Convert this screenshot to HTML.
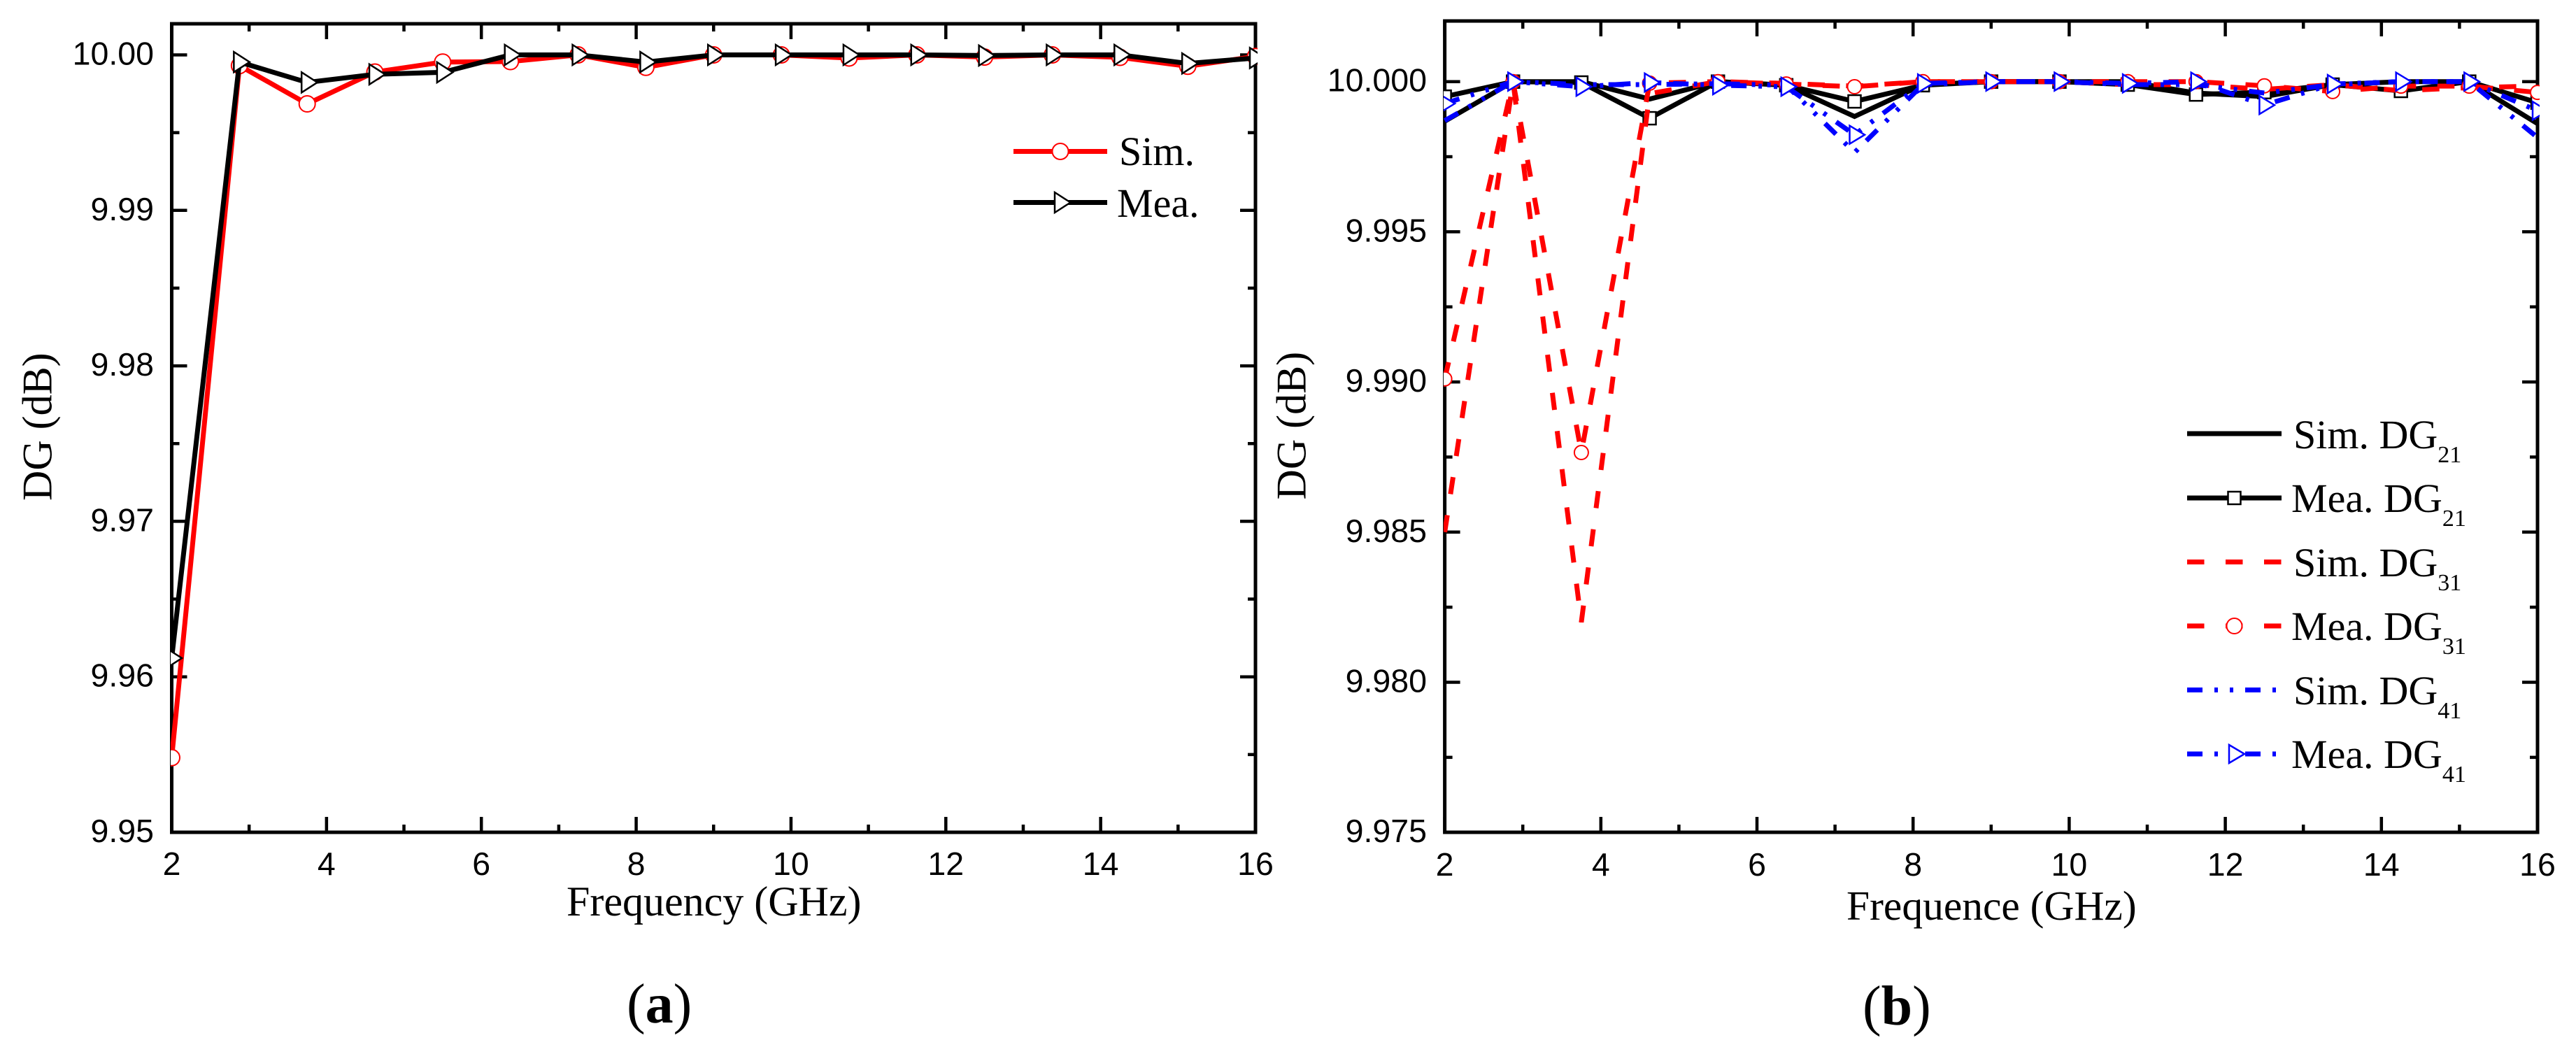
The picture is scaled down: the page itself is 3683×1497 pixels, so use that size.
<!DOCTYPE html>
<html lang="en">
<head>
<meta charset="utf-8">
<title>DG vs Frequency</title>
<style>
html,body{margin:0;padding:0;background:#fff;width:3683px;height:1497px;overflow:hidden}
svg{display:block}
text{fill:#000}
.num{font-family:"Liberation Sans",Arial,sans-serif;font-size:46.5px}
.ser{font-family:"Liberation Serif","Times New Roman",serif}
</style>
</head>
<body>
<svg id="chart" xmlns="http://www.w3.org/2000/svg" width="3683" height="1497" viewBox="0 0 3683 1497">
  <rect x="0" y="0" width="3683" height="1497" fill="#fff"/>
  <defs>
    <clipPath id="clipA"><rect x="244" y="30" width="1554" height="1162"/></clipPath>
    <clipPath id="clipB"><rect x="2064" y="28" width="1567" height="1165"/></clipPath>
  </defs>

  <g id="panelA"></g>
  <g id="panelB"></g>

  <text class="ser" font-size="60" x="810" y="1309">Frequency (GHz)</text>
  <text class="ser" font-size="60" transform="translate(73.3,716) rotate(-90)">DG (dB)</text>
  <text class="ser" font-size="80" x="896" y="1462">(<tspan font-weight="bold">a</tspan>)</text>

  <text class="ser" font-size="59.5" x="2640" y="1315">Frequence (GHz)</text>
  <text class="ser" font-size="60" transform="translate(1866.7,714.5) rotate(-90)">DG (dB)</text>
  <text class="ser" font-size="80" x="2663" y="1465">(<tspan font-weight="bold">b</tspan>)</text>

  <g>
    <g>
      <line x1="1449" y1="216.5" x2="1583" y2="216.5" stroke="#f00" stroke-width="7"/>
      <circle cx="1516" cy="216.5" r="11.5" fill="#fff" stroke="#f00" stroke-width="2"/>
      <text class="ser" font-size="58" x="1600" y="236">Sim.</text>
    </g>
    <g>
      <line x1="1449" y1="289.5" x2="1583" y2="289.5" stroke="#000" stroke-width="7"/>
      <polygon points="1508,275 1530.5,289.5 1508,304" fill="#fff" stroke="#000" stroke-width="2.5"/>
      <text class="ser" font-size="58" x="1597" y="310">Mea.</text>
    </g>
  </g>

  <g>
    <g>
      <line x1="3127" y1="620" x2="3262" y2="620" stroke="#000" stroke-width="7"/>
      <text class="ser" font-size="58" x="3279" y="641">Sim. DG<tspan font-size="34" dy="20">21</tspan></text>
    </g>
    <g>
      <line x1="3127" y1="712" x2="3262" y2="712" stroke="#000" stroke-width="7"/>
      <rect x="3185.5" y="703" width="18" height="18" fill="#fff" stroke="#000" stroke-width="2.5"/>
      <text class="ser" font-size="58" x="3276" y="732">Mea. DG<tspan font-size="34" dy="20">21</tspan></text>
    </g>
    <g>
      <line x1="3127" y1="803.5" x2="3262" y2="803.5" stroke="#f00" stroke-width="7" stroke-dasharray="24.5 30.5"/>
      <text class="ser" font-size="58" x="3279" y="824">Sim. DG<tspan font-size="34" dy="20">31</tspan></text>
    </g>
    <g>
      <line x1="3127" y1="895" x2="3262" y2="895" stroke="#f00" stroke-width="7" stroke-dasharray="24.5 30.5"/>
      <circle cx="3194.5" cy="895" r="11" fill="#fff" stroke="#f00" stroke-width="2"/>
      <text class="ser" font-size="58" x="3276" y="915">Mea. DG<tspan font-size="34" dy="20">31</tspan></text>
    </g>
    <g>
      <line x1="3127" y1="986.5" x2="3262" y2="986.5" stroke="#00f" stroke-width="7" stroke-dasharray="22 17 5 17 5 17"/>
      <text class="ser" font-size="58" x="3279" y="1007">Sim. DG<tspan font-size="34" dy="20">41</tspan></text>
    </g>
    <g>
      <line x1="3127" y1="1078" x2="3262" y2="1078" stroke="#00f" stroke-width="7" stroke-dasharray="22 17 5 17 5 17"/>
      <polygon points="3187,1065 3209,1078 3187,1091" fill="#fff" stroke="#00f" stroke-width="2.5"/>
      <text class="ser" font-size="58" x="3276" y="1098">Mea. DG<tspan font-size="34" dy="20">41</tspan></text>
    </g>
  </g>
</svg>

<script>
var frequencies = [2, 2.875, 3.75, 4.625, 5.5, 6.375, 7.25, 8.125, 9, 9.875, 10.75, 11.625, 12.5, 13.375, 14.25, 15.125, 16];

var simA = [9.9548, 9.99931, 9.99685, 9.9989, 9.99954, 9.99957, 10, 9.9992, 10, 10, 9.9998, 10, 9.99986, 10, 9.99984, 9.99927, 9.9999];
var meaA = [9.9612, 9.99954, 9.99823, 9.99875, 9.99888, 10, 10, 9.99954, 10, 10, 10, 10, 9.99996, 10, 10, 9.99945, 9.9998];

var simDG21 = [9.99868, 10, 10, 9.99942, 10, 9.99988, 9.99884, 9.9999, 10, 10, 10, 9.99962, 9.9995, 9.9999, 10, 10, 9.9986];
var meaDG21 = [9.9995, 10, 9.99997, 9.99878, 10, 9.99988, 9.99934, 9.99988, 10, 10, 9.9999, 9.99957, 9.99965, 9.9999, 9.99969, 10, 9.9993];
var simDG31 = [9.985, 10, 9.982, 9.9996, 10, 9.99994, 9.99985, 10, 10, 10, 9.9999, 9.9999, 9.99974, 9.9999, 9.9997, 9.9998, 9.99985];
var meaDG31 = [9.9901, 10, 9.98765, 9.99995, 10, 9.99992, 9.99983, 10, 10, 10, 10, 10, 9.99986, 9.99967, 9.99985, 9.99985, 9.99964];
var simDG41 = [9.9987, 10, 9.9999, 9.9999, 9.99993, 9.99988, 9.99764, 9.9999, 10, 10, 9.9999, 9.9999, 9.99962, 9.9999, 10, 10, 9.99814];
var meaDG41 = [9.99927, 10, 9.99983, 9.99997, 9.99988, 9.99983, 9.99823, 9.99994, 10, 10, 9.99994, 10, 9.99922, 9.99992, 10, 10, 9.99903];

var xTickValues = [2, 3, 4, 5, 6, 7, 8, 9, 10, 11, 12, 13, 14, 15, 16];
var xTickLabels = ['2', '', '4', '', '6', '', '8', '', '10', '', '12', '', '14', '', '16'];
var yTickValuesA = [9.95, 9.955, 9.96, 9.965, 9.97, 9.975, 9.98, 9.985, 9.99, 9.995, 10];
var yTickLabelsA = ['9.95', '', '9.96', '', '9.97', '', '9.98', '', '9.99', '', '10.00'];
var yTickValuesB = [9.975, 9.9775, 9.98, 9.9825, 9.985, 9.9875, 9.99, 9.9925, 9.995, 9.9975, 10];
var yTickLabelsB = ['9.975', '', '9.980', '', '9.985', '', '9.990', '', '9.995', '', '10.000'];

var SVGNS = 'http://www.w3.org/2000/svg';

function make(parent, tag, attrs) {
  var el = document.createElementNS(SVGNS, tag);
  for (var k in attrs) { el.setAttribute(k, attrs[k]); }
  parent.appendChild(el);
  return el;
}

function buildAxes(parent, box, xFn, yFn, yVals, yLabels, labelX, xLabelBase) {
  var frame = make(parent, 'rect', {x: box.l, y: box.t, width: box.r - box.l, height: box.b - box.t, fill: 'none', stroke: '#000', 'stroke-width': 5});
  
  

  xTickValues.forEach(function (v, i) {
    var major = xTickLabels[i] !== '';
    var len = major ? 22 : 11;
    var x = xFn(v);
    var bottomTick = make(parent, 'line', {x1: x, x2: x, y1: box.b, y2: box.b - len, stroke: '#000', 'stroke-width': 4.5});
    
    
    var topTick = make(parent, 'line', {x1: x, x2: x, y1: box.t, y2: box.t + len, stroke: '#000', 'stroke-width': 4.5});
    
    
    if (major) {
      var t = make(parent, 'text', {x: x, y: xLabelBase, 'text-anchor': 'middle', 'class': 'num'});
      t.textContent = xTickLabels[i];
      
      
    }
  });

  yVals.forEach(function (v, i) {
    var major = yLabels[i] !== '';
    var len = major ? 22 : 11;
    var y = yFn(v);
    var leftTick = make(parent, 'line', {x1: box.l, x2: box.l + len, y1: y, y2: y, stroke: '#000', 'stroke-width': 4.5});
    
    
    var rightTick = make(parent, 'line', {x1: box.r, x2: box.r - len, y1: y, y2: y, stroke: '#000', 'stroke-width': 4.5});
    
    
    if (major) {
      var t = make(parent, 'text', {x: labelX, y: y + 14, 'text-anchor': 'end', 'class': 'num'});
      t.textContent = yLabels[i];
      
      
    }
  });
}

function drawSeries(parent, name, values, xFn, yFn, style) {
  var g = make(parent, 'g', {});
  
  
  var pts = values.map(function (v, i) { return xFn(frequencies[i]) + ',' + yFn(v); }).join(' ');
  var lineAttrs = {points: pts, fill: 'none', stroke: style.color, 'stroke-width': 7, 'stroke-linejoin': 'miter'};
  if (style.dash) { lineAttrs['stroke-dasharray'] = style.dash; }
  var line = make(g, 'polyline', lineAttrs);
  
  
  if (!style.marker) { return; }
  values.forEach(function (v, i) {
    var cx = xFn(frequencies[i]);
    var cy = yFn(v);
    var m;
    if (style.marker === 'circle') {
      m = make(g, 'circle', {cx: cx, cy: cy, r: style.size, fill: '#fff', stroke: style.color, 'stroke-width': 2});
    } else if (style.marker === 'square') {
      m = make(g, 'rect', {x: cx - style.size, y: cy - style.size, width: style.size * 2, height: style.size * 2, fill: '#fff', stroke: style.color, 'stroke-width': 2.5});
    } else {
      var p = (cx - style.back) + ',' + (cy - style.size) + ' ' + (cx + style.tip) + ',' + cy + ' ' + (cx - style.back) + ',' + (cy + style.size);
      m = make(g, 'polygon', {points: p, fill: '#fff', stroke: style.color, 'stroke-width': 2.5});
    }
    
    
  });
}

/* Panel (a) */
var boxA = {l: 245.5, r: 1795, t: 34, b: 1190};
function xA(v) { return boxA.l + (v - 2) * (boxA.r - boxA.l) / 14; }
function yA(v) { return 78.5 + (10 - v) * 22230; }
var panelA = document.getElementById('panelA');
buildAxes(panelA, boxA, xA, yA, yTickValuesA, yTickLabelsA, 220, 1251);
var plotA = make(panelA, 'g', {'clip-path': 'url(#clipA)'});


drawSeries(plotA, 'series-sim', simA, xA, yA, {color: '#f00', marker: 'circle', size: 11.5});
drawSeries(plotA, 'series-mea', meaA, xA, yA, {color: '#000', marker: 'triangle', size: 14.5, back: 8, tip: 14.5});

/* Panel (b) */
var boxB = {l: 2065.6, r: 3628, t: 30, b: 1190};
function xB(v) { return boxB.l + (v - 2) * (boxB.r - boxB.l) / 14; }
function yB(v) { return 116.7 + (10 - v) * 42940; }
var panelB = document.getElementById('panelB');
buildAxes(panelB, boxB, xB, yB, yTickValuesB, yTickLabelsB, 2040, 1252);
var plotB = make(panelB, 'g', {'clip-path': 'url(#clipB)'});


var dashRed = '24.5 30.5';
var dashBlue = '22 17 5 17 5 17';
drawSeries(plotB, 'series-sim-dg21', simDG21, xB, yB, {color: '#000'});
drawSeries(plotB, 'series-mea-dg21', meaDG21, xB, yB, {color: '#000', marker: 'square', size: 9});
drawSeries(plotB, 'series-sim-dg31', simDG31, xB, yB, {color: '#f00', dash: dashRed});
drawSeries(plotB, 'series-mea-dg31', meaDG31, xB, yB, {color: '#f00', dash: dashRed, marker: 'circle', size: 10});
drawSeries(plotB, 'series-sim-dg41', simDG41, xB, yB, {color: '#00f', dash: dashBlue});
drawSeries(plotB, 'series-mea-dg41', meaDG41, xB, yB, {color: '#00f', dash: dashBlue, marker: 'triangle', size: 13, back: 7, tip: 14.5});
</script>
</body>
</html>
